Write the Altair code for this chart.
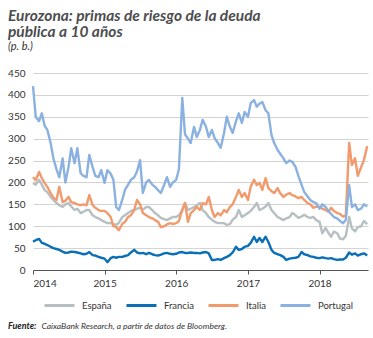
import altair as alt
import pandas as pd

dates = [
    "2014-01-01", "2014-01-15", "2014-02-01", "2014-02-15", "2014-03-01", "2014-03-15",
    "2014-04-01", "2014-04-15", "2014-05-01", "2014-05-15", "2014-06-01", "2014-06-15",
    "2014-07-01", "2014-07-15", "2014-08-01", "2014-08-15", "2014-09-01", "2014-09-15",
    "2014-10-01", "2014-10-15", "2014-11-01", "2014-11-15", "2014-12-01", "2014-12-15",
    "2015-01-01", "2015-01-15", "2015-02-01", "2015-02-15", "2015-03-01", "2015-03-15",
    "2015-04-01", "2015-04-15", "2015-05-01", "2015-05-15", "2015-06-01", "2015-06-15",
    "2015-07-01", "2015-07-15", "2015-08-01", "2015-08-15", "2015-09-01", "2015-09-15",
    "2015-10-01", "2015-10-15", "2015-11-01", "2015-11-15", "2015-12-01", "2015-12-15",
    "2016-01-01", "2016-01-15", "2016-02-01", "2016-02-15", "2016-03-01", "2016-03-15",
    "2016-04-01", "2016-04-15", "2016-05-01", "2016-05-15", "2016-06-01", "2016-06-15",
    "2016-07-01", "2016-07-15", "2016-08-01", "2016-08-15", "2016-09-01", "2016-09-15",
    "2016-10-01", "2016-10-15", "2016-11-01", "2016-11-15", "2016-12-01", "2016-12-15",
    "2017-01-01", "2017-01-15", "2017-02-01", "2017-02-15", "2017-03-01", "2017-03-15",
    "2017-04-01", "2017-04-15", "2017-05-01", "2017-05-15", "2017-06-01", "2017-06-15",
    "2017-07-01", "2017-07-15", "2017-08-01", "2017-08-15", "2017-09-01", "2017-09-15",
    "2017-10-01", "2017-10-15", "2017-11-01", "2017-11-15", "2017-12-01", "2017-12-15",
    "2018-01-01", "2018-01-15", "2018-02-01", "2018-02-15", "2018-03-01", "2018-03-15",
    "2018-04-01", "2018-04-15", "2018-05-01", "2018-05-15", "2018-06-01", "2018-06-15",
    "2018-07-01", "2018-07-15", "2018-08-01", "2018-08-15", "2018-09-01",
]

espana = [
    199, 195, 206, 195, 183, 178, 167, 160, 153, 148, 144, 150,
    153, 145, 137, 140, 130, 133, 137, 137, 125, 121, 118, 114,
    110, 107, 107, 105, 103, 108, 121, 125, 130, 135, 137, 140,
    142, 138, 144, 144, 137, 130, 125, 119, 116, 114, 118, 121,
    121, 125, 137, 153, 137, 140, 144, 148, 153, 137, 130, 121,
    115, 110, 107, 107, 107, 103, 105, 115, 121, 137, 121, 125,
    130, 135, 144, 153, 137, 140, 145, 153, 137, 130, 121, 118,
    114, 118, 121, 130, 125, 119, 122, 126, 121, 119, 121, 114,
    110, 84, 96, 85, 76, 88, 84, 72, 70, 78, 121, 95,
    88, 98, 100, 112, 105,
]

francia = [
    65, 68, 71, 62, 60, 57, 53, 50, 48, 46, 42, 39,
    40, 42, 41, 40, 38, 36, 37, 41, 34, 33, 30, 28,
    26, 18, 27, 30, 28, 30, 30, 32, 34, 40, 46, 40,
    38, 39, 36, 39, 36, 34, 33, 35, 38, 39, 37, 36,
    37, 40, 41, 39, 39, 40, 39, 39, 38, 40, 41, 38,
    23, 23, 25, 23, 27, 30, 34, 40, 53, 46, 48, 53,
    55, 62, 76, 64, 73, 64, 76, 64, 46, 39, 36, 34,
    30, 23, 26, 27, 28, 30, 41, 36, 34, 31, 30, 28,
    27, 29, 27, 26, 27, 25, 23, 24, 24, 28, 40, 35,
    38, 33, 36, 38, 33,
]

italia = [
    212, 205, 224, 210, 199, 190, 176, 165, 160, 190, 155, 158,
    167, 155, 153, 150, 148, 150, 148, 171, 148, 142, 137, 135,
    135, 130, 121, 100, 98, 91, 105, 110, 121, 125, 137, 160,
    150, 130, 125, 121, 118, 114, 110, 98, 100, 104, 107, 105,
    107, 112, 137, 153, 110, 130, 137, 144, 137, 153, 150, 167,
    137, 121, 130, 125, 137, 132, 144, 150, 167, 183, 167, 176,
    160, 190, 206, 194, 199, 183, 210, 187, 180, 176, 187, 175,
    167, 172, 176, 171, 168, 164, 167, 160, 153, 150, 142, 145,
    144, 140, 137, 133, 142, 135, 130, 128, 122, 125, 290, 240,
    255, 215, 235, 251, 283,
]

portugal = [
    420, 350, 340, 358, 330, 320, 290, 255, 230, 212, 255, 200,
    235, 278, 244, 278, 221, 215, 212, 263, 235, 215, 212, 228,
    199, 228, 220, 206, 144, 137, 160, 183, 195, 206, 212, 225,
    251, 176, 200, 206, 195, 190, 182, 176, 195, 212, 190, 200,
    206, 230, 393, 310, 300, 290, 327, 304, 320, 343, 327, 304,
    320, 301, 290, 279, 313, 350, 327, 313, 340, 358, 336, 361,
    350, 381, 388, 373, 380, 384, 365, 358, 308, 290, 274, 265,
    255, 244, 250, 247, 235, 215, 195, 178, 168, 160, 155, 153,
    140, 150, 144, 135, 128, 121, 118, 112, 107, 115, 194, 144,
    150, 137, 140, 150, 145,
]

series_names = ["España", "Francia", "Italia", "Portugal"]
series_colors = ["#b6bfc2", "#0a6fb7", "#f29a6c", "#8ab1e0"]
year_ticks = [2014, 2015, 2016, 2017, 2018]
y_ticks = [0, 50, 100, 150, 200, 250, 300, 350, 400, 450]

title_line1 = "Eurozona: primas de riesgo de la deuda"
title_line2 = "pública a 10 años"
subtitle = "(p. b.)"
source_bold = "Fuente:"
source_rest = "CaixaBank Research, a partir de datos de Bloomberg."

rows = []
for name, vals in zip(series_names, [espana, francia, italia, portugal]):
    for d, v in zip(dates, vals):
        rows.append({"fecha": d, "serie": name, "valor": v})
df = pd.DataFrame(rows)

FONT = "Lato"
W, H = 335, 197

lines = alt.Chart(df).mark_line(strokeWidth=2.4, strokeJoin="round").encode(
    x=alt.X(
        "fecha:T",
        scale=alt.Scale(domain=["2014-01-01", "2018-09-05"], nice=False),
        axis=alt.Axis(
            values=[alt.DateTime(year=y, month=1, date=1) for y in year_ticks],
            format="%Y", title=None, grid=False, domain=True, domainColor="#555555",
            domainWidth=1, ticks=True, tickColor="#555555", tickSize=4,
            labelFont=FONT, labelFontSize=10, labelColor="#333333", labelPadding=4,
        ),
    ),
    y=alt.Y(
        "valor:Q",
        scale=alt.Scale(domain=[0, 450], nice=False),
        axis=alt.Axis(
            values=y_ticks, title=None, grid=True, gridColor="#d4d4d4", gridWidth=1,
            domain=False, ticks=False, labelFont=FONT, labelFontSize=10,
            labelColor="#333333", labelPadding=8,
        ),
    ),
    color=alt.Color(
        "serie:N",
        scale=alt.Scale(domain=series_names, range=series_colors),
        legend=alt.Legend(
            orient="none", legendX=10, legendY=216, direction="horizontal", title=None,
            symbolType="stroke", symbolStrokeWidth=3, symbolSize=900,
            labelFont=FONT, labelFontSize=9.5, labelColor="#333333",
            labelOffset=6, columnPadding=8, columns=4, gridAlign="none",
        ),
    ),
    order=alt.Order("fecha:T"),
)


def txt(s, x, y, size, weight="normal", style="normal", color="#333333"):
    return alt.Chart(pd.DataFrame({"t": [s]})).mark_text(
        align="left", baseline="alphabetic", font=FONT, fontSize=size,
        fontWeight=weight, fontStyle=style, color=color,
    ).encode(x=alt.value(x), y=alt.value(y), text="t:N")


title1 = txt(title_line1, -25, -52, 15.5, "bold", "italic", "#4d4d4f")
title2 = txt(title_line2, -25, -36.5, 15.5, "bold", "italic", "#4d4d4f")
sub_txt = txt(subtitle, -25, -23, 11, "normal", "italic", "#333333")
src1 = txt(source_bold, -25, 256, 9, "bold", "italic", "#222222")
src2 = txt(source_rest, 8.5, 256, 8.5, "normal", "italic", "#333333")

chart = alt.layer(lines, title1, title2, sub_txt, src1, src2).properties(
    width=W, height=H,
    autosize=alt.AutoSizeParams(type="none"),
    padding={"left": 33, "top": 73, "right": 5, "bottom": 68},
    background="white",
).configure_view(stroke=None)

chart.save("out.html", embed_options={"renderer": "svg", "actions": False})
